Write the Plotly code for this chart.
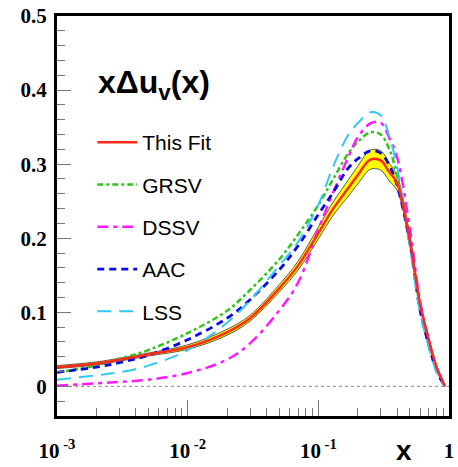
import plotly.graph_objects as go

# ---- data ----
x = [0.001, 0.002, 0.003, 0.005, 0.01, 0.02, 0.03, 0.05, 0.07, 0.1, 0.13, 0.17,
     0.2, 0.25, 0.3, 0.35, 0.4, 0.5, 0.6, 0.7, 0.8, 0.9, 0.93]

this_fit = [0.026, 0.031, 0.036, 0.043, 0.053, 0.073, 0.092, 0.132, 0.163, 0.207, 0.240, 0.268,
            0.285, 0.306, 0.305, 0.289, 0.275, 0.198, 0.112, 0.063, 0.027, 0.006, 0.0]
band_upper = [0.028, 0.033, 0.038, 0.045, 0.056, 0.077, 0.096, 0.137, 0.169, 0.215, 0.249, 0.279,
              0.297, 0.319, 0.318, 0.301, 0.285, 0.205, 0.116, 0.066, 0.029, 0.007, 0.0]
band_lower = [0.024, 0.029, 0.034, 0.041, 0.050, 0.069, 0.088, 0.127, 0.157, 0.199, 0.231, 0.257,
              0.273, 0.293, 0.292, 0.277, 0.265, 0.191, 0.108, 0.060, 0.025, 0.005, 0.0]
grsv = [0.019, 0.028, 0.037, 0.049, 0.072, 0.102, 0.130, 0.171, 0.205, 0.245, 0.280, 0.315,
        0.330, 0.343, 0.340, 0.320, 0.285, 0.200, 0.108, 0.060, 0.024, 0.005, 0.0]
dssv = [0.001, 0.004, 0.006, 0.009, 0.018, 0.036, 0.058, 0.102, 0.140, 0.212, 0.262, 0.310,
        0.336, 0.355, 0.356, 0.335, 0.310, 0.215, 0.115, 0.062, 0.025, 0.005, 0.0]
aac = [0.019, 0.026, 0.032, 0.042, 0.063, 0.092, 0.117, 0.157, 0.190, 0.232, 0.262, 0.295,
       0.307, 0.318, 0.315, 0.298, 0.272, 0.195, 0.103, 0.056, 0.022, 0.004, 0.0]
lss = [0.009, 0.015, 0.019, 0.028, 0.049, 0.086, 0.116, 0.163, 0.195, 0.245, 0.297, 0.340,
       0.355, 0.370, 0.366, 0.337, 0.297, 0.190, 0.100, 0.053, 0.020, 0.003, 0.0]

y_tickvals = [0, 0.1, 0.2, 0.3, 0.4, 0.5]
y_ticktext = ["0", "0.1", "0.2", "0.3", "0.4", "0.5"]
x_tickvals = [0.001, 0.01, 0.1, 1]
x_ticktext = ["10<sup> -3</sup>", "10<sup> -2</sup>", "10<sup> -1</sup>", "1"]

fig = go.Figure()

# uncertainty band
fig.add_trace(go.Scatter(x=x, y=band_lower, mode="lines", line=dict(color="#333333", width=0.8, shape="spline"),
                         showlegend=False, hoverinfo="skip"))
fig.add_trace(go.Scatter(x=x, y=band_upper, mode="lines", line=dict(color="#333333", width=0.8, shape="spline"),
                         fill="tonexty", fillcolor="#ffff00", showlegend=False, hoverinfo="skip"))

series = [
    ("GRSV", grsv, dict(color="#33c21a", width=2.5, dash="6px,3px,3px,3px"), 2),
    ("DSSV", dssv, dict(color="#ff1aff", width=2.5, dash="11px,5px,4px,5px"), 3),
    ("AAC", aac, dict(color="#0a0ae0", width=2.8, dash="7px,5px"), 4),
    ("LSS", lss, dict(color="#33c8f5", width=2, dash="14px,8px"), 5),
    ("This Fit", this_fit, dict(color="#ff2a1a", width=2.5, dash="solid"), 1),
]
for name, ys, ln, rank in series:
    ln = dict(ln, shape="spline")
    fig.add_trace(go.Scatter(x=x, y=ys, mode="lines", name=name, line=ln,
                             legendgroup=name, legendrank=rank))

fig.add_shape(type="line", xref="paper", x0=0, x1=1, yref="y", y0=0, y1=0,
              line=dict(color="#888888", width=1, dash="dot"), layer="below")

fig.add_annotation(text="<b>xΔu<sub>v</sub>(x)</b>", xref="paper", yref="paper", x=0.1, y=0.83,
                   xanchor="left", yanchor="middle", showarrow=False,
                   font=dict(family="Liberation Sans, Arial", size=32, color="black"))
fig.add_annotation(text="<b>x</b>", xref="paper", yref="paper", x=0.885, y=-0.042,
                   xanchor="center", yanchor="top", showarrow=False,
                   font=dict(family="Liberation Sans, Arial", size=28, color="black"))

fig.update_layout(
    width=458, height=467,
    margin=dict(l=57, r=4, t=16, b=47),
    paper_bgcolor="white", plot_bgcolor="white",
    showlegend=True,
    legend=dict(x=0.09, y=0.735, xanchor="left", yanchor="top", bgcolor="rgba(0,0,0,0)",
                font=dict(family="Liberation Sans, Arial", size=21, color="black"),
                tracegroupgap=12, traceorder="grouped", itemwidth=40),
)
fig.update_xaxes(type="log", range=[-3, 0], showgrid=False, zeroline=False,
                 showline=True, linecolor="black", linewidth=3, mirror=True,
                 ticks="inside", ticklen=16, tickcolor="#777777", tickwidth=1.2,
                 tickvals=x_tickvals, ticktext=x_ticktext, ticklabelstandoff=14,
                 tickfont=dict(family="Liberation Serif, Times New Roman", size=21, color="black", weight="bold"),
                 minor=dict(ticks="inside", ticklen=8, tickcolor="#777777", tickwidth=1.2, dtick="D1", showgrid=False))
fig.update_yaxes(range=[-0.04, 0.5], showgrid=False, zeroline=False,
                 showline=True, linecolor="black", linewidth=3, mirror=True,
                 ticks="inside", ticklen=14, tickcolor="#777777", tickwidth=1.2,
                 tickvals=y_tickvals, ticktext=y_ticktext, ticklabelstandoff=3,
                 tickfont=dict(family="Liberation Serif, Times New Roman", size=21, color="black", weight="bold"),
                 minor=dict(ticks="inside", ticklen=8, tickcolor="#777777", tickwidth=1.2, dtick=0.02, showgrid=False))

fig.write_html("out.html")
